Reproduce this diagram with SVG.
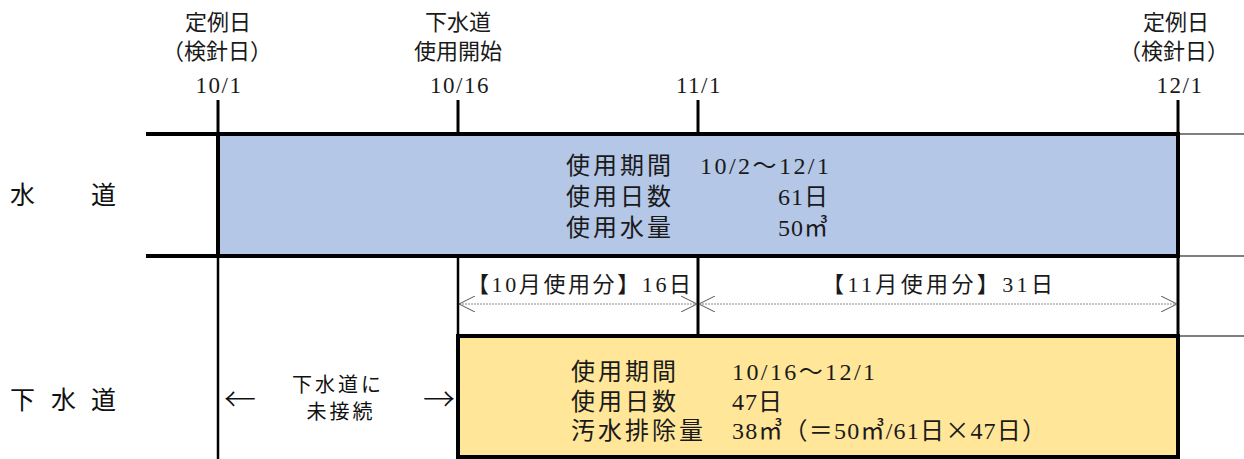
<svg xmlns="http://www.w3.org/2000/svg" width="1244" height="459" viewBox="0 0 1244 459">
<style>
.m{font-family:"Liberation Serif","Noto Sans CJK JP",serif;fill:#1a1a1a}
.g{font-family:"Noto Sans CJK JP","Liberation Sans",sans-serif;fill:#111}
.cjk{font-family:"Noto Sans CJK JP",sans-serif}
.lab{font-size:22px}
.num{font-size:23px;letter-spacing:1.5px}
.box{font-size:24px}
.jp{letter-spacing:3px}
.thick{stroke:#000;stroke-width:4;fill:none}
.tick{stroke:#000;stroke-width:3}
.thin{stroke:#555;stroke-width:1.5}
.dim{stroke:#888;stroke-width:1;stroke-dasharray:2 1;fill:none}
</style>
<defs>
<marker id="arr" viewBox="0 0 16 16" refX="16" refY="8" markerWidth="16" markerHeight="16" markerUnits="userSpaceOnUse" orient="auto-start-reverse">
<path d="M0,0 L16,8 L0,16" fill="none" stroke="#555" stroke-width="1"/>
</marker>
</defs>
<rect width="1244" height="459" fill="#fff"/>

<g id="timeline-labels">
<g id="label-10-1">
<text class="m lab" x="218" y="30" text-anchor="middle">定例日</text>
<text class="m lab" x="217" y="59" text-anchor="middle">（検針日）</text>
<text class="m num" x="219" y="93" text-anchor="middle">10/1</text>
</g>
<g id="label-10-16">
<text class="m lab" x="458" y="30" text-anchor="middle">下水道</text>
<text class="m lab" x="458" y="59" text-anchor="middle">使用開始</text>
<text class="m num" x="460" y="93" text-anchor="middle">10/16</text>
</g>
<g id="label-11-1">
<text class="m num" x="699" y="93" text-anchor="middle">11/1</text>
</g>
<g id="label-12-1">
<text class="m lab" x="1176" y="30" text-anchor="middle">定例日</text>
<text class="m lab" x="1174" y="59" text-anchor="middle">（検針日）</text>
<text class="m num" x="1180" y="93" text-anchor="middle">12/1</text>
</g>
</g>

<g id="row-labels">
<g id="label-suido">
<text class="g" font-size="25" x="10" y="204">水</text>
<text class="g" font-size="25" x="91" y="204">道</text>
</g>
<g id="label-gesuido">
<text class="g" font-size="25" x="10" y="409">下</text>
<text class="g" font-size="25" x="51" y="409">水</text>
<text class="g" font-size="25" x="91" y="409">道</text>
</g>
</g>

<g id="connectors">
<line class="tick" x1="218" y1="100" x2="218" y2="134"/>
<line class="tick" x1="458" y1="100" x2="458" y2="134"/>
<line class="tick" x1="698" y1="100" x2="698" y2="134"/>
<line class="tick" x1="1178" y1="100" x2="1178" y2="134"/>
<line class="thick" x1="146" y1="134" x2="218" y2="134"/>
<line class="thick" x1="146" y1="256" x2="218" y2="256"/>
<line class="thin" x1="1180" y1="134" x2="1244" y2="134"/>
<line class="thin" x1="1180" y1="256" x2="1244" y2="256"/>
<line class="thin" x1="1180" y1="336" x2="1244" y2="336"/>
<line stroke="#000" stroke-width="2.5" x1="218" y1="256" x2="218" y2="459"/>
<line stroke="#000" stroke-width="2.5" x1="458" y1="256" x2="458" y2="336"/>
<line class="tick" x1="698" y1="256" x2="698" y2="336"/>
<line class="tick" x1="1178" y1="256" x2="1178" y2="336"/>
<line class="dim" x1="459" y1="304" x2="697" y2="304" marker-start="url(#arr)" marker-end="url(#arr)"/>
<line class="dim" x1="699" y1="304" x2="1177" y2="304" marker-start="url(#arr)" marker-end="url(#arr)"/>
</g>

<g id="water-box">
<rect x="218" y="134" width="960" height="122" fill="#B4C7E7" stroke="#000" stroke-width="4"/>
<text class="m box jp" x="566" y="174">使用期間</text>
<text class="m box" x="700" y="174" textLength="129" lengthAdjust="spacing">10/2～12/1</text>
<text class="m box jp" x="566" y="205">使用日数</text>
<text class="m box" x="778" y="205" letter-spacing="1">61日</text>
<text class="m box jp" x="566" y="236">使用水量</text>
<text class="m box" x="778" y="236" letter-spacing="1">50㎥</text>
</g>

<g id="dim-oct">
<text class="m" font-size="22" x="467" y="292" textLength="224" lengthAdjust="spacing">【10月使用分】16日</text>
</g>
<g id="dim-nov">
<text class="m" font-size="22" x="822" y="292" textLength="231" lengthAdjust="spacing">【11月使用分】31日</text>
</g>

<g id="not-connected">
<text class="cjk" font-size="32" x="240" y="411" text-anchor="middle" font-weight="300" fill="#111">←</text>
<text class="g" font-size="20" x="338" y="392" text-anchor="middle" letter-spacing="3" fill="#333">下水道に</text>
<text class="g" font-size="20" x="341" y="419" text-anchor="middle" letter-spacing="3" fill="#333">未接続</text>
<text class="cjk" font-size="32" x="439" y="411" text-anchor="middle" font-weight="300" fill="#111">→</text>
</g>

<g id="sewer-box">
<rect x="458" y="336" width="720" height="121" fill="#FFE699" stroke="#000" stroke-width="4"/>
<text class="m box jp" x="571" y="380">使用期間</text>
<text class="m box" x="732" y="380" textLength="143" lengthAdjust="spacing">10/16～12/1</text>
<text class="m box jp" x="571" y="410">使用日数</text>
<text class="m box" x="732" y="410" letter-spacing="1">47日</text>
<text class="m box jp" x="571" y="439">汚水排除量</text>
<text class="m box" x="732" y="439" textLength="314" lengthAdjust="spacing">38㎥（＝50㎥/61日<tspan class="cjk">×</tspan>47日）</text>
</g>
</svg>
